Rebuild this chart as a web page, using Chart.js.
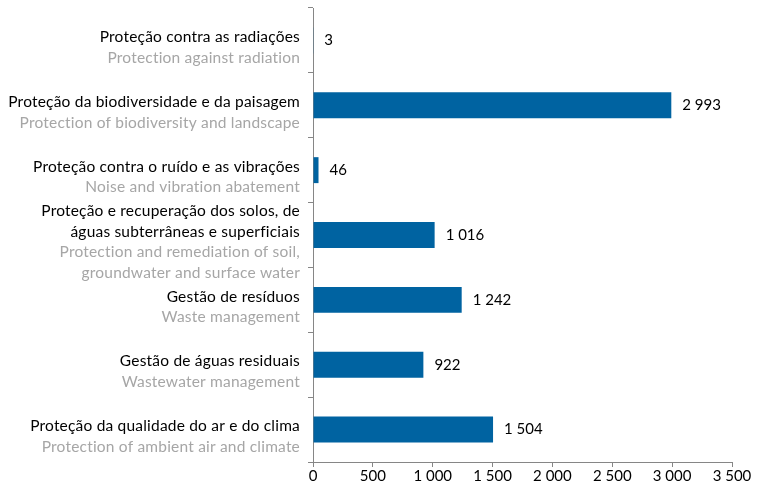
<!DOCTYPE html>
<html>
<head>
<meta charset="utf-8">
<script src="https://cdn.jsdelivr.net/npm/chart.js@4/dist/chart.umd.min.js"></script>
<style>
  html, body { margin: 0; padding: 0; background: #fff; }
  #wrap { width: 761px; height: 481px; }
</style>
</head>
<body>
<div id="wrap"><canvas id="myChart" width="761" height="481"></canvas></div>
<script>
// labels, Portuguese (black) and English (grey), one array of lines per category
var labelsPt = [
  ["Proteção contra as radiações"],
  ["Proteção da biodiversidade e da paisagem"],
  ["Proteção contra o ruído e as vibrações"],
  ["Proteção e recuperação dos solos, de", "águas subterrâneas e superficiais"],
  ["Gestão de resíduos"],
  ["Gestão de águas residuais"],
  ["Proteção da qualidade do ar e do clima"]
]
var labelsEn = [
  ["Protection against radiation"],
  ["Protection of biodiversity and landscape"],
  ["Noise and vibration abatement"],
  ["Protection and remediation of soil,", "groundwater and surface water"],
  ["Waste management"],
  ["Wastewater management"],
  ["Protection of ambient air and climate"]
]
var values = [3, 2993, 46, 1016, 1242, 922, 1504]
var xMin = 0, xMax = 3500, xStep = 500

var FONT = "Lato, 'Open Sans', sans-serif"

function fmt(n) {
  return String(n).replace(/\B(?=(\d{3})+(?!\d))/g, " ")
}

// draws the two-colour category labels left of the axis
var catLabels = {
  id: 'catLabels',
  afterDraw: function(chart) {
    var ctx = chart.ctx
    var y = chart.scales.y
    var lh = 20.5
    ctx.save()
    ctx.font = "15.5px " + FONT
    ctx.letterSpacing = '0.2px'
    ctx.textAlign = 'right'
    ctx.textBaseline = 'middle'
    for (var i = 0; i < labelsPt.length; i++) {
      var lines = labelsPt[i].map(function(t) { return [t, '#000000'] })
        .concat(labelsEn[i].map(function(t) { return [t, '#a6a6a6'] }))
      var cy = y.getPixelForTick(i) + 7
      var top = cy - (lines.length - 1) * lh / 2
      lines.forEach(function(l, k) {
        ctx.fillStyle = l[1]
        ctx.fillText(l[0], 300, top + k * lh)
      })
    }
    ctx.restore()
  }
}

// value labels at the end of each bar
var valueLabels = {
  id: 'valueLabels',
  afterDatasetsDraw: function(chart) {
    var ctx = chart.ctx
    var meta = chart.getDatasetMeta(0)
    ctx.save()
    ctx.font = "15px " + FONT
    ctx.fillStyle = '#000000'
    ctx.textAlign = 'left'
    ctx.textBaseline = 'middle'
    meta.data.forEach(function(bar, i) {
      ctx.fillText(fmt(values[i]), bar.x + 11, bar.y)
    })
    ctx.restore()
  }
}

var ctx = document.getElementById('myChart').getContext('2d')
var chart = new Chart(ctx, {
  type: 'bar',
  data: {
    labels: labelsPt.map(function(l) { return l.join(' ') }),
    datasets: [{
      data: values,
      backgroundColor: '#0063a1',
      borderWidth: 0,
      barPercentage: 0.4,
      categoryPercentage: 1
    }]
  },
  options: {
    indexAxis: 'y',
    responsive: false,
    animation: false,
    layout: { padding: { top: 8, right: 29, left: 0, bottom: 0 } },
    plugins: { legend: { display: false }, tooltip: { enabled: false } },
    scales: {
      x: {
        min: xMin, max: xMax,
        border: { color: '#868686', width: 1 },
        grid: { drawOnChartArea: false, drawTicks: true, tickLength: 5, color: '#868686' },
        ticks: {
          stepSize: xStep,
          color: '#000000',
          padding: 0,
          font: { family: FONT, size: 15 },
          callback: function(v) { return fmt(v) }
        },
        afterFit: function(s) { s.height = 19 }
      },
      y: {
        border: { color: '#868686', width: 1 },
        grid: { offset: true, drawOnChartArea: false, drawTicks: true, tickLength: 5, color: '#868686' },
        ticks: { display: false },
        afterFit: function(s) { s.width = 313 }
      }
    }
  },
  plugins: [catLabels, valueLabels]
})
</script>
</body>
</html>
